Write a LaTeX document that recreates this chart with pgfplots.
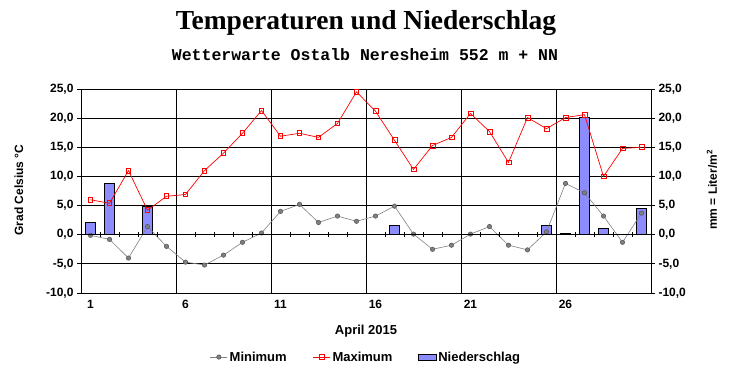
\documentclass[border=0pt]{standalone}
\usepackage{pgfplots}
\pgfplotsset{compat=1.18}
\usepackage{pgfplotstable}
\usepackage{fontspec}
\setmainfont{Liberation Sans}
\newfontfamily\timesf{Liberation Serif}
\newfontfamily\courf{Liberation Mono}

\pgfplotstableread{
day min max
1 -0.1 6.0
2 -0.8 5.4
3 -4.0 11.0
4 1.4 4.2
5 -2.0 6.6
6 -4.7 6.9
7 -5.2 11.0
8 -3.5 14.0
9 -1.3 17.4
10 0.3 21.3
11 4.0 16.9
12 5.2 17.4
13 2.1 16.7
14 3.2 19.1
15 2.3 24.5
16 3.2 21.2
17 4.9 16.2
18 0.1 11.2
19 -2.5 15.3
20 -1.8 16.7
21 0.1 20.8
22 1.4 17.7
23 -1.8 12.4
24 -2.6 20.1
25 0.5 18.2
26 8.8 20.1
27 7.2 20.6
28 3.2 10.0
29 -1.3 14.8
30 3.7 15.0
}\temps

\pgfplotstableread{
day rain
1 2.1
2 8.8
4 4.8
17 1.6
25 1.6
26 0.15
27 20.1
28 1.1
30 4.5
}\rain

\definecolor{mingray}{RGB}{128,128,128}
\definecolor{rainblue}{RGB}{140,140,255}

\pgfplotsset{
  common/.style={
    scale only axis, width=570pt, height=204pt,
    at={(81pt,-293pt)}, anchor=south west,
    xmin=0.5, xmax=30.5, ymin=-10, ymax=25,
    axis line style={black, line width=0.8pt},
    tick style={black, line width=0.8pt},
    tick label style={font=\bfseries\fontsize{12}{14}\selectfont},
    yticklabel style={/pgf/number format/fixed, /pgf/number format/fixed zerofill, /pgf/number format/precision=1, /pgf/number format/use comma, /pgf/number format/assume math mode=true},
  },
  minstyle/.style={color=mingray, line width=0.6pt, mark=*, mark size=2.2pt, mark options={fill=mingray, draw=mingray!70!black}},
  maxstyle/.style={color=red, line width=0.7pt, mark=square, mark size=2.4pt, mark options={fill=white, draw=red, line width=0.8pt}},
}

\begin{document}
\begin{tikzpicture}
\useasboundingbox (0,0) rectangle (732pt,-380pt);
\node[font=\timesf\bfseries\fontsize{27.5}{31}\selectfont, anchor=base] at (366pt,-30pt) {Temperaturen und Niederschlag};
\node[font=\courf\bfseries\fontsize{16.5}{18}\selectfont, anchor=base] at (365pt,-60pt) {Wetterwarte Ostalb Neresheim 552 m + NN};

% main axis: grid, left ticks, bars, lines
\begin{axis}[common,
  ytick={-10,-5,...,25}, ymajorgrids,
  grid style={black, line width=0.8pt},
  xtick={1,6,11,16,21,26}, xticklabels={1,6,11,16,21,26},
  xtick style={draw=none},
  extra x ticks={5.5,10.5,15.5,20.5,25.5}, extra x tick labels={},
  extra x tick style={grid=major, tick style={draw=none}},
  ytick pos=left, tick align=outside, major tick length=4pt,
  xlabel={April 2015},
  xlabel style={at={(axis description cs:0.5,-0.186)}, anchor=center, font=\bfseries\fontsize{13}{15}\selectfont},
  ylabel={Grad Celsius °C},
  ylabel style={at={(axis description cs:-0.109,0.505)}, anchor=center, font=\bfseries\fontsize{12}{14}\selectfont},
  legend style={at={(0.5,-0.314)}, anchor=center, legend columns=3, draw=none, fill=none,
    font=\bfseries\fontsize{13}{15}\selectfont,
    /tikz/every even column/.append style={column sep=24pt}},
]
\addlegendimage{minstyle}
\addlegendentry{Minimum}
\addlegendimage{maxstyle}
\addlegendentry{Maximum}
\addplot[ybar, bar width=9.3pt, draw=black, line width=0.8pt, fill=rainblue, area legend] table[x=day,y=rain]{\rain};
\addlegendentry{Niederschlag}
\addplot[minstyle, forget plot] table[x=day,y=min]{\temps};
\addplot[maxstyle, forget plot] table[x=day,y=max]{\temps};
\end{axis}

% right axis
\begin{axis}[common,
  axis y line*=right, axis x line=none,
  ytick={-10,-5,...,25}, tick align=outside, major tick length=4pt,
  ylabel={mm = Liter/m\textsuperscript{2}},
  ylabel style={at={(axis description cs:1.107,0.505)}, anchor=center, font=\bfseries\fontsize{12}{14}\selectfont},
]
\end{axis}

% day ticks on the zero line
\begin{axis}[common,
  axis x line=middle, axis y line=none,
  axis line style={-, black, line width=0.8pt},
  xtick={1.5,2.5,...,29.5}, xticklabels={},
  tick align=center, major tick length=5pt,
]
\end{axis}
\end{tikzpicture}
\end{document}
